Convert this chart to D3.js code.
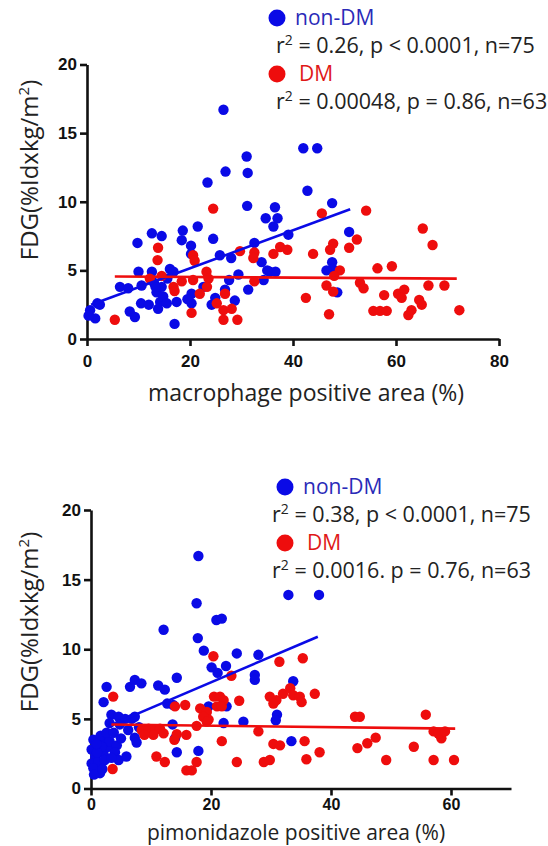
<!DOCTYPE html>
<html>
<head>
<meta charset="utf-8">
<title>FDG vs macrophage / pimonidazole</title>
<script src="https://cdn.jsdelivr.net/npm/d3@7"></script>
<style>
  body { margin: 0; background: #fff; }
  svg { display: block; }
  .tick text { font-family: "Liberation Sans", Arial, sans-serif; font-weight: bold; font-size: 17px; fill: #111; }
  .lab { font-family: "Open Sans", "Noto Sans", sans-serif; fill: #222; }
</style>
</head>
<body>
<svg id="chart" width="548" height="846"></svg>
<script>
// FDG uptake vs macrophage positive area (%)
var macroBlue = [[0.6,2.1],[1.6,1.5],[0.3,1.7],[2.0,2.6],[6.4,3.8],[8.0,3.7],[8.3,2.0],[9.3,1.6],[9.8,7.0],[10.0,4.9],
  [10.6,3.9],[10.5,2.6],[12.6,4.9],[12.6,7.7],[13.0,4.1],[13.5,3.4],[14.2,2.7],[13.8,2.2],[14.5,7.5],[14.5,3.8],
  [14.8,3.1],[15.5,2.6],[16.1,5.1],[17.0,1.1],[17.4,2.7],[18.4,7.2],[18.6,7.9],[20.2,6.8],[20.2,6.2],[20.3,3.3],
  [20.3,2.6],[21.5,8.2],[23.4,11.4],[24.5,7.3],[24.2,2.5],[24.9,3.0],[25.8,6.1],[26.5,16.7],[26.8,3.6],[26.9,12.2],
  [28.0,5.9],[28.7,2.8],[29.4,4.7],[31.0,13.3],[31.2,12.1],[31.1,9.7],[31.3,3.6],[32.5,7.0],[33.9,5.6],[34.3,4.3],
  [34.7,8.8],[35.5,4.9],[36.5,9.6],[36.6,4.9],[37.0,8.8],[36.2,8.2],[39.1,7.6],[42.0,13.9],[44.7,13.9],[42.8,10.8],
  [47.6,9.9],[47.6,5.6],[47.7,5.1],[48.6,3.4],[50.9,7.8],[15.6,4.4],[16.8,4.9],[13.3,3.8],[12.0,2.5],[19.5,2.9],
  [22.6,3.8],[27.6,4.3],[35.0,5.0],[46.5,5.0],[2.5,2.5]];
var macroRed = [[24.5,9.5],[13.8,6.65],[13.7,5.75],[20.6,6.1],[20.9,5.7],[23.2,4.9],[23.6,4.4],[23.3,3.8],[21.9,3.3],[20.6,4.3],
  [18.4,4.2],[16.8,3.8],[17.0,3.5],[12.2,4.4],[14.5,4.6],[26.8,3.3],[25.2,2.6],[26.5,2.1],[26.5,1.4],[28.1,2.2],
  [29.2,1.4],[20.3,1.9],[5.4,1.4],[29.7,6.4],[32.5,6.3],[32.3,5.9],[32.5,4.2],[36.2,6.2],[37.5,6.7],
  [45.6,9.15],[54.2,9.35],[65.2,8.05],[67.1,6.85],[52.4,7.25],[50.9,6.65],[47.8,6.95],[47.2,6.5],[43.9,6.2],[38.9,6.5],
  [49.1,5.0],[48.0,4.6],[46.5,3.9],[47.8,3.45],[42.5,3.0],[47.0,1.8],[56.4,5.15],[59.2,5.3],[53.0,4.1],[53.7,3.7],
  [57.7,3.2],[60.4,3.3],[61.6,3.6],[61.1,3.0],[55.6,2.05],[56.9,2.05],[58.2,2.05],[62.4,1.75],[63.0,2.1],[64.5,2.85],
  [65.0,2.5],[66.3,3.9],[69.4,3.9],[72.3,2.1]];
var macroBlueFit = [[0.8,2.5],[51.1,9.45]];
var macroRedFit = [[5.4,4.55],[71.8,4.4]];

// FDG uptake vs pimonidazole positive area (%)
var pimoBlue = [[17.9,16.7],[32.9,13.9],[38.0,13.9],[17.6,13.3],[20.9,12.1],[21.8,12.2],[12.1,11.4],[17.8,10.8],[18.8,9.9],[24.3,9.7],
  [27.9,9.6],[20.1,8.7],[21.1,8.3],[22.5,8.8],[27.3,8.15],[27.3,7.8],[33.7,7.7],[14.3,7.95],[11.2,7.4],[12.3,7.1],
  [6.5,7.3],[7.3,7.8],[8.4,7.55],[2.6,7.3],[2.1,6.2],[12.7,6.1],[13.7,6.0],[3.4,5.3],[4.6,5.15],[5.7,5.0],
  [6.8,5.0],[7.3,5.15],[3.1,4.7],[8.0,4.4],[7.3,3.65],[7.6,3.3],[0.4,3.5],[0.1,2.8],[0.7,2.3],[0.1,1.8],
  [1.2,1.9],[1.5,1.1],[0.4,1.45],[2.1,2.5],[2.9,3.0],[2.1,3.5],[3.1,3.4],[4.3,3.1],[4.0,2.6],[4.6,2.05],
  [5.9,2.3],[2.3,2.05],[1.8,3.0],[14.0,3.6],[14.3,2.6],[17.9,2.7],[13.6,4.6],[22.1,4.7],[25.4,4.8],[22.6,5.9],
  [31.0,5.3],[30.8,4.9],[33.4,3.4],[19.6,5.9],[1.0,2.6],[1.6,3.8],[0.9,3.2],[2.6,4.0],[3.8,4.0],[5.0,3.6],
  [6.2,4.2],[0.5,1.0],[1.9,1.4],[3.4,2.2],[4.8,4.6]];
var pimoRed = [[3.7,6.6],[3.6,1.4],[20.4,9.5],[23.4,8.1],[31.4,9.1],[35.3,9.35],[37.3,6.8],[20.5,6.6],[21.5,6.6],[22.1,6.35],
  [21.0,5.9],[21.8,5.9],[24.7,6.3],[29.8,6.6],[30.9,6.35],[32.0,6.8],[33.2,7.2],[33.7,6.7],[34.8,6.6],[30.4,6.1],
  [35.1,6.2],[15.7,6.0],[14.0,5.9],[18.2,5.75],[19.3,5.5],[19.6,4.95],[18.7,5.15],[8.45,4.2],[9.6,4.3],[10.7,4.2],
  [11.5,4.3],[12.1,3.96],[10.4,3.85],[8.9,3.85],[14.3,3.9],[13.9,3.5],[15.9,3.85],[17.6,4.5],[19.3,4.8],[21.8,3.4],
  [10.9,2.3],[12.3,1.9],[15.9,1.3],[16.8,1.3],[17.6,1.9],[24.3,1.9],[28.8,1.9],[29.8,2.05],[27.9,4.1],[30.4,3.2],
  [31.5,3.1],[35.6,3.4],[35.9,2.1],[38.1,2.6],[44.0,5.15],[44.8,5.15],[55.8,5.3],[57.1,4.1],[58.4,3.6],[57.9,3.95],
  [59.0,4.1],[44.4,2.9],[46.05,3.25],[47.45,3.65],[49.2,2.05],[53.8,3.0],[57.1,2.05],[60.5,2.05]];
var pimoBlueFit = [[3.0,4.5],[37.8,10.9]];
var pimoRedFit = [[3.4,4.6],[60.7,4.3]];

var yTicks = [0, 5, 10, 15, 20];
var macroTicks = [0, 20, 40, 60, 80];
var pimoTicks = [0, 20, 40, 60];
var groups = ["non-DM", "DM"];
var macroStats = ["0.26, p < 0.0001, n=75", "0.00048, p = 0.86, n=63"];
var pimoStats = ["0.38, p < 0.0001, n=75", "0.0016. p = 0.76, n=63"];

var BLUE = "#0a0ae6", RED = "#ee0d0d";
var svg = d3.select("#chart");

function panel(o) {
  var g = svg.append("g");
  var x = d3.scaleLinear().domain(o.xDomain).range(o.xRange);
  var y = d3.scaleLinear().domain([0, 20]).range(o.yRange);

  var xa = g.append("g").attr("transform", "translate(0," + o.yRange[0] + ")")
    .call(d3.axisBottom(x).tickValues(o.xTicks).tickSize(7).tickSizeOuter(0).tickPadding(o.xPad));
  xa.selectAll(".tick text").style("font-size", o.xTickSize + "px");
  var ya = g.append("g").attr("transform", "translate(" + o.xRange[0] + ",0)")
    .call(d3.axisLeft(y).tickValues(yTicks).tickSize(7).tickSizeOuter(0).tickPadding(3));
  [xa, ya].forEach(function(a) {
    a.selectAll("path, line").attr("stroke", "#111").attr("stroke-width", 2.6);
  });

  var dots = [[o.blue, BLUE], [o.red, RED]];
  dots.forEach(function(s) {
    g.append("g").selectAll("circle").data(s[0]).join("circle")
      .attr("cx", function(d) { return x(d[0]); })
      .attr("cy", function(d) { return y(d[1]); })
      .attr("r", 5.2)
      .attr("fill", s[1]);
  });

  var line = d3.line().x(function(d) { return x(d[0]); }).y(function(d) { return y(d[1]); });
  g.append("path").attr("d", line(o.blueFit)).attr("stroke", BLUE).attr("stroke-width", 2.6).attr("fill", "none");
  g.append("path").attr("d", line(o.redFit)).attr("stroke", RED).attr("stroke-width", 2.6).attr("fill", "none");

  // axis titles
  g.append("text").attr("class", "lab").attr("x", o.titleX).attr("y", o.titleY)
    .attr("text-anchor", "middle").attr("font-size", o.titleSize).text(o.title);
  var yl = g.append("text").attr("class", "lab").attr("font-size", 24)
    .attr("text-anchor", "middle")
    .attr("transform", "translate(38," + o.yLabelY + ") rotate(-90)");
  yl.append("tspan").text("FDG(%Idxkg/m");
  yl.append("tspan").attr("font-size", 15).attr("dy", -9).text("2");
  yl.append("tspan").attr("dy", 9).text(")");

  // legend
  var cols = [BLUE, RED];
  groups.forEach(function(name, i) {
    var top = o.legendY + i * 56;
    g.append("circle").attr("cx", o.legendX).attr("cy", top).attr("r", 8.5).attr("fill", cols[i]);
    g.append("text").attr("class", "lab").attr("x", o.legendX + (i ? 22 : 18)).attr("y", top + 7)
      .attr("font-size", 21).style("fill", i ? "#e01818" : "#2a2ab8").text(name);
    var t = g.append("text").attr("class", "lab").attr("x", o.statX).attr("y", top + 35).attr("font-size", 21.5);
    t.append("tspan").text("r");
    t.append("tspan").attr("font-size", 14).attr("dy", -8).text("2");
    t.append("tspan").attr("dy", 8).text(" = " + o.stats[i]);
  });
}

panel({
  xDomain: [0, 80], xRange: [87, 499], yRange: [339, 64.5], xTicks: macroTicks, xPad: 9, xTickSize: 17,
  blue: macroBlue, red: macroRed, blueFit: macroBlueFit, redFit: macroRedFit,
  title: "macrophage positive area (%)", titleX: 306, titleY: 401, titleSize: 23, yLabelY: 170,
  legendX: 277, legendY: 18, statX: 276, stats: macroStats
});
panel({
  xDomain: [0, 70], xRange: [91, 511], yRange: [788.5, 510], xTicks: pimoTicks, xPad: 3, xTickSize: 16,
  blue: pimoBlue, red: pimoRed, blueFit: pimoBlueFit, redFit: pimoRedFit,
  title: "pimonidazole positive area (%)", titleX: 296, titleY: 840, titleSize: 21, yLabelY: 622,
  legendX: 285, legendY: 487, statX: 272, stats: pimoStats
});
</script>
</body>
</html>
